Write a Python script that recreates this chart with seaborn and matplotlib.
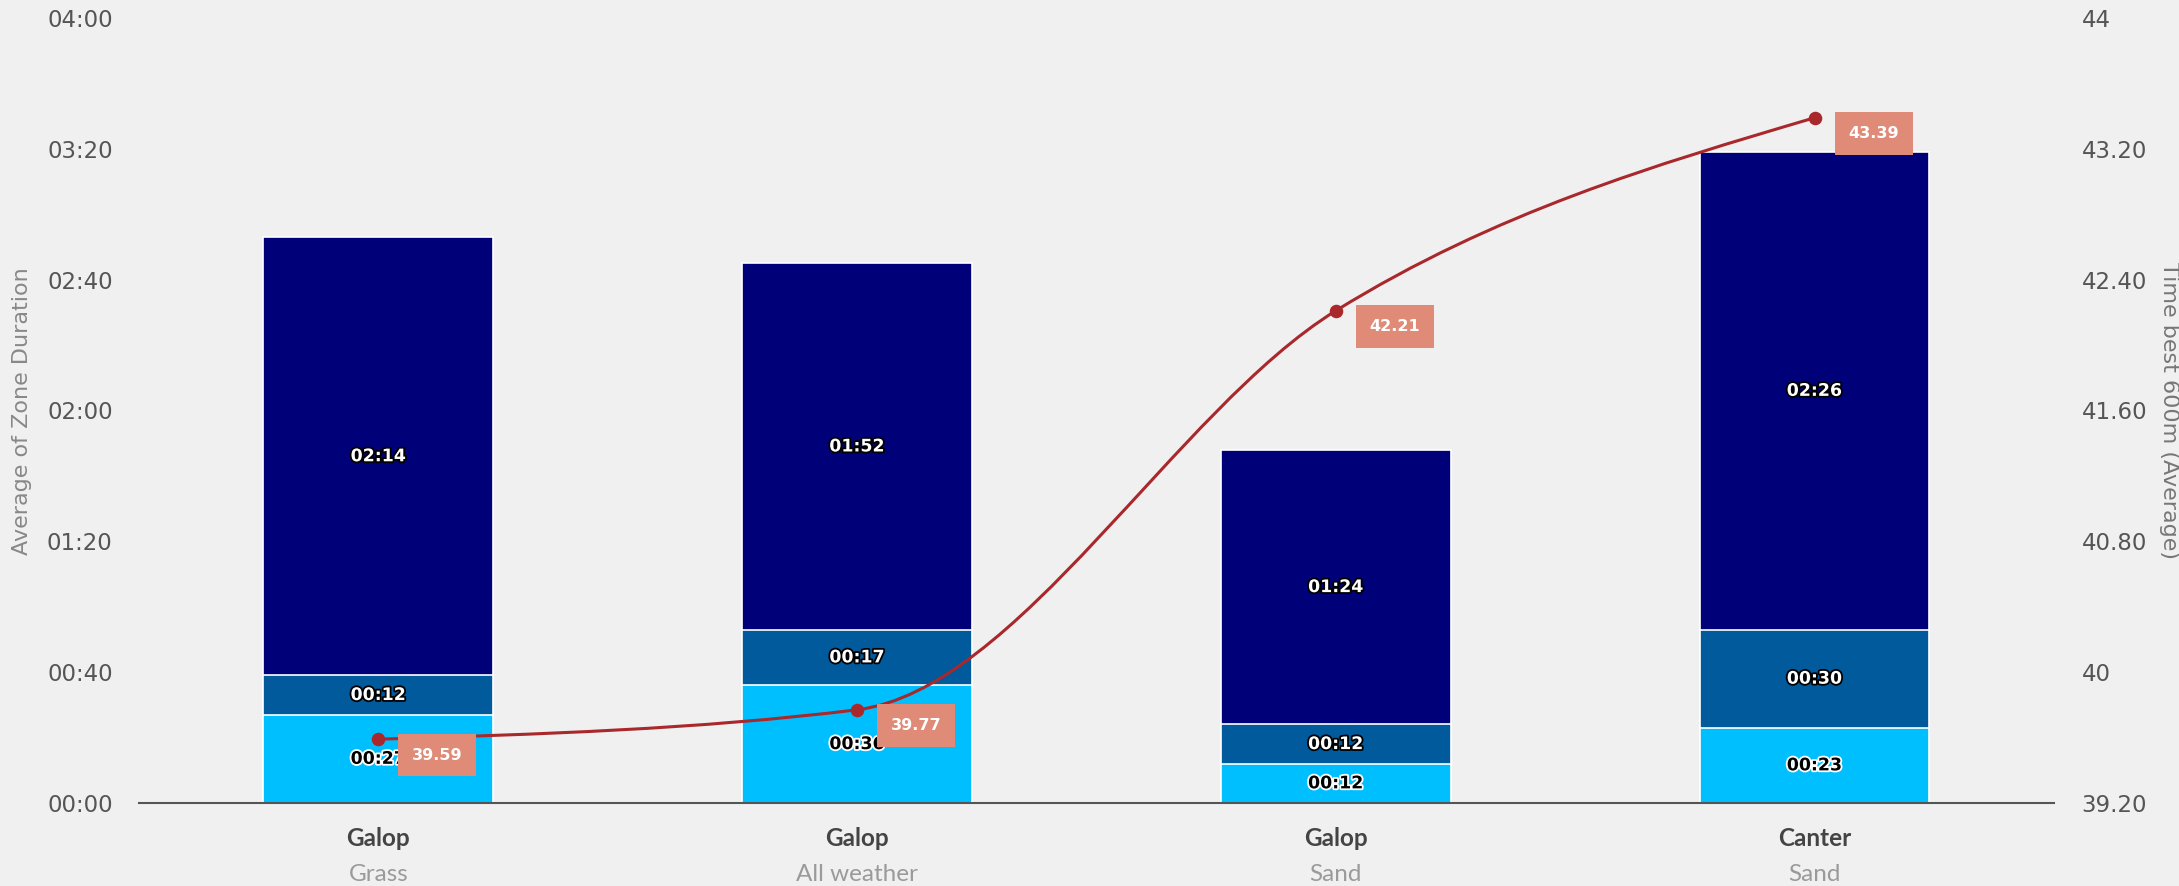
import numpy as np
import pandas as pd
import matplotlib
matplotlib.use("Agg")
import matplotlib.pyplot as plt
import seaborn as sns
from matplotlib.path import Path
from matplotlib.patches import PathPatch
from matplotlib.ticker import FuncFormatter, FixedLocator
import matplotlib.patheffects as pe

# ---------------- data ----------------
gaits = ["Galop", "Galop", "Galop", "Canter"]
surfaces = ["Grass", "All weather", "Sand", "Sand"]
zone_low_s = [27, 36, 12, 23]      # seconds (light blue)
zone_mid_s = [12, 17, 12, 30]      # seconds (mid blue)
zone_high_s = [134, 112, 84, 146]  # seconds (navy)
best_600m = [39.59, 39.77, 42.21, 43.39]
left_ticks_s = [0, 40, 80, 120, 160, 200, 240]
right_ticks = [39.2, 40.0, 40.8, 41.6, 42.4, 43.2, 44.0]
left_title = "Average of Zone Duration"
right_title = "Time best 600m (Average)"

# ---------------- style ----------------
sns.set_theme(style="white")
plt.rcParams["font.family"] = ["DejaVu Sans"]

BG = "#f0f0f0"
C_LOW, C_MID, C_HIGH = "#00BFFF", "#005A9C", "#000078"
LINE = "#A8282C"
BOX = "#E08B77"
TICK_C = "#555555"


def mmss(v):
    v = int(round(v))
    return f"{v // 60:02d}:{v % 60:02d}"


def num_fmt(v, _=None):
    r = round(v, 6)
    return f"{int(r)}" if float(r).is_integer() else f"{r:.2f}"


keys = [f"{g}|{s}" for g, s in zip(gaits, surfaces)]
df = pd.DataFrame({"key": keys, "low": zone_low_s, "mid": zone_mid_s,
                   "high": zone_high_s, "best": best_600m})
df["lowmid"] = df["low"] + df["mid"]
df["total"] = df["lowmid"] + df["high"]

fig = plt.figure(figsize=(21.79, 8.86), dpi=100, facecolor=BG)
ax = fig.add_axes([0.0638, 0.0937, 0.8788, 0.8860])
ax.set_facecolor(BG)

# stacked bars drawn as overlaid cumulative totals
for col, color in [("total", C_HIGH), ("lowmid", C_MID), ("low", C_LOW)]:
    sns.barplot(data=df, x="key", y=col, order=keys, color=color, width=0.48,
                edgecolor="white", linewidth=1.2, saturation=1, errorbar=None, ax=ax)

ax.set_xlim(-0.5, len(keys) - 0.5)
ax.set_ylim(left_ticks_s[0], left_ticks_s[-1])
ax.yaxis.set_major_locator(FixedLocator(left_ticks_s))
ax.yaxis.set_major_formatter(FuncFormatter(lambda v, p: mmss(v)))
ax.set_xlabel("")
ax.set_ylabel("")
ax.set_xticks(range(len(keys)))
ax.set_xticklabels([])
ax.tick_params(axis="both", length=0)
ax.tick_params(axis="y", pad=19, labelsize=16.5, labelcolor=TICK_C)
for sp in ["left", "right", "top"]:
    ax.spines[sp].set_visible(False)
ax.spines["bottom"].set_color("#555555")
ax.spines["bottom"].set_linewidth(1.5)
ax.spines["bottom"].set_zorder(6)

# segment labels
for i, r in df.iterrows():
    segs = [(r["low"] / 2, r["low"], "black", "white"),
            (r["low"] + r["mid"] / 2, r["mid"], "white", "black"),
            (r["lowmid"] + r["high"] / 2, r["high"], "white", "black")]
    for yc, val, fc, sc in segs:
        ax.text(i, yc, mmss(val), ha="center", va="center", color=fc,
                fontsize=12.5, fontweight="bold", zorder=5,
                path_effects=[pe.withStroke(linewidth=2.6, foreground=sc)])

# category labels (two lines)
for i, (g, s) in enumerate(zip(gaits, surfaces)):
    ax.annotate(g, xy=(i, 0), xycoords=("data", "axes fraction"), xytext=(0, -25.5),
                textcoords="offset points", ha="center", va="center",
                fontfamily="Lato", fontweight="bold", fontsize=17.5, color="#444444",
                annotation_clip=False)
    ax.annotate(s, xy=(i, 0), xycoords=("data", "axes fraction"), xytext=(0, -51.5),
                textcoords="offset points", ha="center", va="center",
                fontfamily="Lato", fontsize=17.5, color="#9a9a9a",
                annotation_clip=False)

# ---------------- secondary axis: line ----------------
ax2 = ax.twinx()
ax2.set_ylim(right_ticks[0], right_ticks[-1])
ax2.yaxis.set_major_locator(FixedLocator(right_ticks))
ax2.yaxis.set_major_formatter(FuncFormatter(num_fmt))
ax2.tick_params(axis="both", length=0)
ax2.tick_params(axis="y", pad=20, labelsize=16.5, labelcolor=TICK_C)
for sp in ax2.spines.values():
    sp.set_visible(False)
ax2.grid(False)
ax.grid(False)

xs = np.arange(len(best_600m), dtype=float)
ys = np.asarray(best_600m, dtype=float)
n = len(xs)
h = np.diff(xs)
s = np.diff(ys) / h
t = np.zeros(n)
for i in range(1, n - 1):
    if s[i - 1] * s[i] <= 0:
        t[i] = 0.0
    else:
        p = (s[i - 1] * h[i] + s[i] * h[i - 1]) / (h[i - 1] + h[i])
        t[i] = (np.sign(s[i - 1]) + np.sign(s[i])) * min(abs(s[i - 1]), abs(s[i]), 0.5 * abs(p))
t[0] = (3 * s[0] - t[1]) / 2
t[-1] = (3 * s[-1] - t[-2]) / 2

verts = [(xs[0], ys[0])]
codes = [Path.MOVETO]
for i in range(n - 1):
    dx = xs[i + 1] - xs[i]
    verts += [(xs[i] + dx / 3, ys[i] + dx * t[i] / 3),
              (xs[i + 1] - dx / 3, ys[i + 1] - dx * t[i + 1] / 3),
              (xs[i + 1], ys[i + 1])]
    codes += [Path.CURVE4] * 3
ax2.add_patch(PathPatch(Path(verts, codes), fill=False, edgecolor=LINE, lw=2.2, zorder=3))

sns.scatterplot(x=xs, y=ys, ax=ax2, color=LINE, s=95, linewidth=0, zorder=4)

for x, y in zip(xs, ys):
    ax2.annotate(f"{y:.2f}", xy=(x, y), xytext=(24.3, -11.5), textcoords="offset points",
                 ha="left", va="center", color="white", fontsize=11.5, fontweight="bold",
                 zorder=6, bbox=dict(boxstyle="square,pad=0.86", fc=BOX, ec="none"))

ax2.set_xlim(-0.5, len(keys) - 0.5)
ax2.set_ylabel("")

# axis titles
fig.text(22 / 2179, 0.5365, left_title, rotation=90, ha="center", va="center",
         fontsize=16, color="#888888")
fig.text(2169 / 2179, 0.5365, right_title, rotation=270, ha="center", va="center",
         fontsize=16, color="#777777")

fig.savefig("out.png", dpi=100, facecolor=BG)
